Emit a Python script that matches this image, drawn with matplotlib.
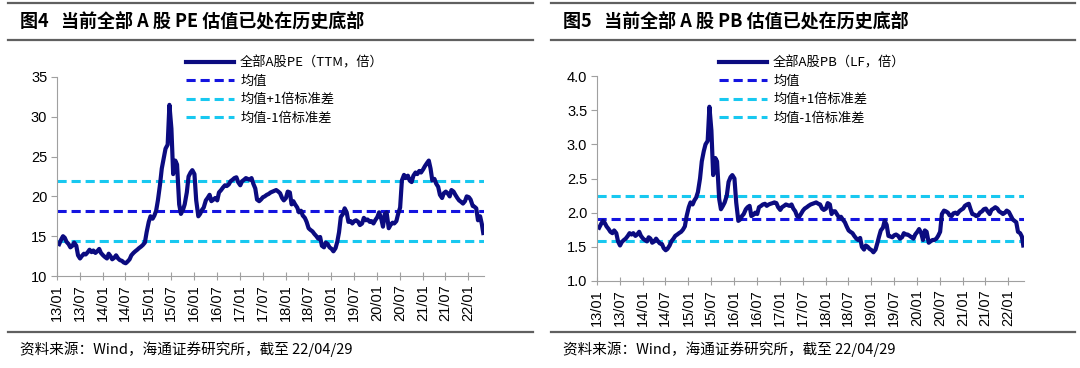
import matplotlib
matplotlib.use("Agg")
import matplotlib.pyplot as plt
import matplotlib.dates as mdates
from matplotlib.lines import Line2D
import pandas as pd

plt.rcParams['font.family'] = ['Noto Sans CJK SC', 'DejaVu Sans']

# semi-monthly readings, 2013/01 .. 2022/04
pe_values = [
    14.0, 14.6, 15.0, 14.8, 14.3, 14.0, 13.6, 13.8, 14.2, 13.8, 12.6, 12.2,
    12.5, 12.8, 12.7, 13.0, 13.3, 13.0, 13.2, 12.9, 13.1, 13.4, 12.9, 12.6,   # 2013
    12.4, 12.2, 12.8, 12.5, 12.1, 12.3, 12.6, 12.2, 12.0, 11.9, 11.7, 11.6,
    11.8, 12.1, 12.6, 12.9, 13.1, 13.3, 13.5, 13.7, 13.9, 14.2, 15.5, 16.8,   # 2014
    17.5, 17.2, 17.6, 18.2, 19.5, 21.5, 23.5, 24.8, 26.0, 26.5, 31.5, 28.5,
    22.8, 24.5, 24.0, 19.0, 17.8, 18.3, 19.0, 20.5, 22.5, 23.0, 23.3, 22.8,   # 2015
    19.5, 17.5, 17.8, 18.3, 18.6, 19.5, 19.8, 20.2, 19.4, 19.6, 19.8, 19.5,
    20.5, 20.8, 21.1, 21.4, 21.3, 21.5, 21.9, 22.1, 22.3, 22.4, 21.8, 21.4,   # 2016
    21.9, 22.1, 22.3, 22.2, 22.1, 22.3, 21.6, 21.0, 19.6, 19.4, 19.6, 19.9,
    20.0, 20.2, 20.3, 20.5, 20.6, 20.7, 20.8, 20.6, 20.4, 19.8, 19.5, 19.8,   # 2017
    20.6, 20.5, 19.0, 19.4, 19.0, 18.6, 18.0, 18.2, 17.6, 17.3, 16.8, 16.0,
    15.8, 15.6, 15.3, 15.0, 14.7, 14.9, 13.8, 13.6, 14.2, 14.0, 13.6, 13.4,   # 2018
    13.1, 13.5, 14.3, 15.5, 17.4, 17.8, 18.5, 18.0, 16.8, 16.9, 16.6, 16.9,
    17.0, 16.8, 16.4, 16.6, 17.3, 17.0, 17.1, 16.8, 16.9, 16.6, 17.0, 17.4,   # 2019
    18.0, 17.2, 16.2, 17.8, 18.0, 16.0, 16.4, 16.7, 16.6, 16.9, 17.8, 18.6,
    22.0, 22.7, 22.3, 22.6, 22.0, 21.8, 22.6, 23.0, 22.8, 23.2, 23.0, 23.4,   # 2020
    23.8, 24.2, 24.5, 23.5, 22.0, 22.2, 21.6, 21.2, 20.2, 19.8, 20.4, 20.6,
    20.4, 20.0, 20.8, 20.6, 20.2, 19.8, 19.5, 19.3, 19.1, 19.4, 20.0, 19.9,   # 2021
    19.6, 18.8, 18.7, 18.5, 17.0, 17.5, 16.5, 15.4,                           # 2022
]
pb_values = [
    1.78, 1.84, 1.88, 1.85, 1.80, 1.76, 1.72, 1.70, 1.74, 1.70, 1.58, 1.52,
    1.57, 1.60, 1.62, 1.66, 1.70, 1.68, 1.70, 1.66, 1.68, 1.72, 1.66, 1.62,   # 2013
    1.60, 1.58, 1.64, 1.62, 1.56, 1.58, 1.62, 1.58, 1.55, 1.54, 1.48, 1.45,
    1.47, 1.52, 1.58, 1.62, 1.66, 1.68, 1.70, 1.72, 1.75, 1.80, 1.95, 2.08,   # 2014
    2.15, 2.12, 2.18, 2.22, 2.30, 2.50, 2.75, 2.90, 3.00, 3.05, 3.55, 3.20,
    2.55, 2.80, 2.75, 2.20, 2.05, 2.10, 2.15, 2.25, 2.45, 2.52, 2.55, 2.50,   # 2015
    2.15, 1.88, 1.90, 1.95, 1.98, 2.05, 2.08, 2.10, 1.95, 1.97, 2.00, 1.98,
    2.08, 2.10, 2.12, 2.13, 2.10, 2.12, 2.13, 2.14, 2.15, 2.14, 2.08, 2.04,   # 2016
    2.08, 2.10, 2.12, 2.11, 2.10, 2.12, 2.06, 2.02, 1.95, 1.94, 1.98, 2.03,
    2.06, 2.08, 2.10, 2.12, 2.13, 2.14, 2.15, 2.13, 2.12, 2.06, 2.04, 2.06,   # 2017
    2.14, 2.12, 1.98, 2.02, 2.02, 1.97, 1.93, 1.94, 1.90, 1.86, 1.80, 1.74,
    1.72, 1.70, 1.66, 1.62, 1.60, 1.63, 1.50, 1.46, 1.52, 1.50, 1.47, 1.45,   # 2018
    1.42, 1.46, 1.55, 1.65, 1.74, 1.78, 1.88, 1.82, 1.66, 1.65, 1.64, 1.67,
    1.68, 1.66, 1.62, 1.64, 1.70, 1.68, 1.68, 1.66, 1.64, 1.62, 1.68, 1.72,   # 2019
    1.76, 1.70, 1.60, 1.74, 1.72, 1.56, 1.58, 1.60, 1.60, 1.62, 1.66, 1.72,
    1.98, 2.03, 2.02, 2.00, 1.96, 1.95, 1.99, 2.00, 1.98, 2.02, 2.04, 2.06,   # 2020
    2.10, 2.12, 2.13, 2.05, 1.98, 1.97, 1.95, 1.96, 2.00, 2.02, 2.05, 2.06,
    2.02, 1.98, 2.04, 2.06, 2.08, 2.06, 2.02, 2.00, 1.98, 2.00, 2.03, 2.01,   # 2021
    1.96, 1.90, 1.88, 1.86, 1.72, 1.70, 1.65, 1.52,                           # 2022
]
pe_mean, pe_up, pe_dn = 18.15, 21.95, 14.45
pb_mean, pb_up, pb_dn = 1.91, 2.24, 1.59

dates = pd.date_range('2013-01-04', periods=len(pe_values), freq='SMS') + pd.Timedelta(days=3)
dates = dates.where(dates <= pd.Timestamp('2022-04-29'), pd.Timestamp('2022-04-29'))

titles = ['图4   当前全部 A 股 PE 估值已处在历史底部', '图5   当前全部 A 股 PB 估值已处在历史底部']
legend_main = ['全部A股PE（TTM，倍）', '全部A股PB（LF，倍）']
source = '资料来源：Wind，海通证券研究所，截至 22/04/29'

NAVY = '#0b0b80'
BLUE = '#1414e0'
CYAN = '#18c8f0'
DASH = (0, (3, 1.6))

fig = plt.figure(figsize=(10.8, 3.68), dpi=100)
W, H = 1080, 368

panels = [
    dict(x0=57, x1=484, y0=276, y1=77, vals=pe_values, lines=(pe_mean, pe_up, pe_dn),
         ylim=(10, 35), yt=[10, 15, 20, 25, 30, 35], fmt='{:.0f}', sep=(8, 533), legx=186),
    dict(x0=597, x1=1024, y0=281, y1=76, vals=pb_values, lines=(pb_mean, pb_up, pb_dn),
         ylim=(1.0, 4.0), yt=[1.0, 1.5, 2.0, 2.5, 3.0, 3.5, 4.0], fmt='{:.1f}', sep=(551, 1075), legx=719),
]

for i, p in enumerate(panels):
    ax = fig.add_axes([p['x0'] / W, 1 - p['y0'] / H, (p['x1'] - p['x0']) / W, (p['y0'] - p['y1']) / H])
    m, u, d = p['lines']
    ax.axhline(u, color=CYAN, lw=2.2, ls=DASH)
    ax.axhline(d, color=CYAN, lw=2.2, ls=DASH)
    ax.axhline(m, color=BLUE, lw=2.2, ls=DASH)
    ax.plot(dates, p['vals'], color=NAVY, lw=3.0, solid_joinstyle='round')
    ax.set_ylim(*p['ylim'])
    ax.set_yticks(p['yt'])
    ax.set_yticklabels([p['fmt'].format(v) for v in p['yt']], fontsize=10.5, family='Liberation Sans')
    ax.set_xlim(pd.Timestamp('2013-01-01'), pd.Timestamp('2022-05-05'))
    ax.xaxis.set_major_locator(mdates.MonthLocator(bymonth=[1, 7]))
    ax.xaxis.set_major_formatter(mdates.DateFormatter('%y/%m'))
    for lab in ax.get_xticklabels():
        lab.set_rotation(90)
        lab.set_fontsize(10.5)
        lab.set_family('Liberation Sans')
    for s in ['top', 'right']:
        ax.spines[s].set_visible(False)
    for s in ['left', 'bottom']:
        ax.spines[s].set_color('#a0a0a0')
        ax.spines[s].set_linewidth(0.8)
    ax.tick_params(axis='y', length=4, color='#a0a0a0', pad=3)
    ax.tick_params(axis='x', direction='inout', length=6, color='#a0a0a0', pad=3)

    handles = [Line2D([], [], color=NAVY, lw=3.0),
               Line2D([], [], color=BLUE, lw=2.2, ls=DASH),
               Line2D([], [], color=CYAN, lw=2.2, ls=DASH),
               Line2D([], [], color=CYAN, lw=2.2, ls=DASH)]
    labels = [legend_main[i], '均值', '均值+1倍标准差', '均值-1倍标准差']
    fig.legend(handles, labels, loc='upper left', bbox_to_anchor=(p['legx'] / W, 1 - 56 / H),
               frameon=False, fontsize=9.5, handlelength=3.6, handletextpad=0.5,
               labelspacing=0.42, borderpad=0, borderaxespad=0)

    # title with separator rules
    x0, x1 = p['sep']
    for yy in (3, 40, 332):
        fig.add_artist(Line2D([x0 / W, x1 / W], [1 - yy / H, 1 - yy / H], color='#606060', lw=1.6))
    fig.text((x0 + 12) / W, 1 - 21 / H, titles[i], fontsize=13, fontweight='bold', va='center', ha='left')
    fig.text((x0 + 12) / W, 1 - 349 / H, source, fontsize=10.5, va='center', ha='left',
             family=['Noto Sans CJK SC', 'DejaVu Sans'])

fig.savefig('out.png', dpi=100)
